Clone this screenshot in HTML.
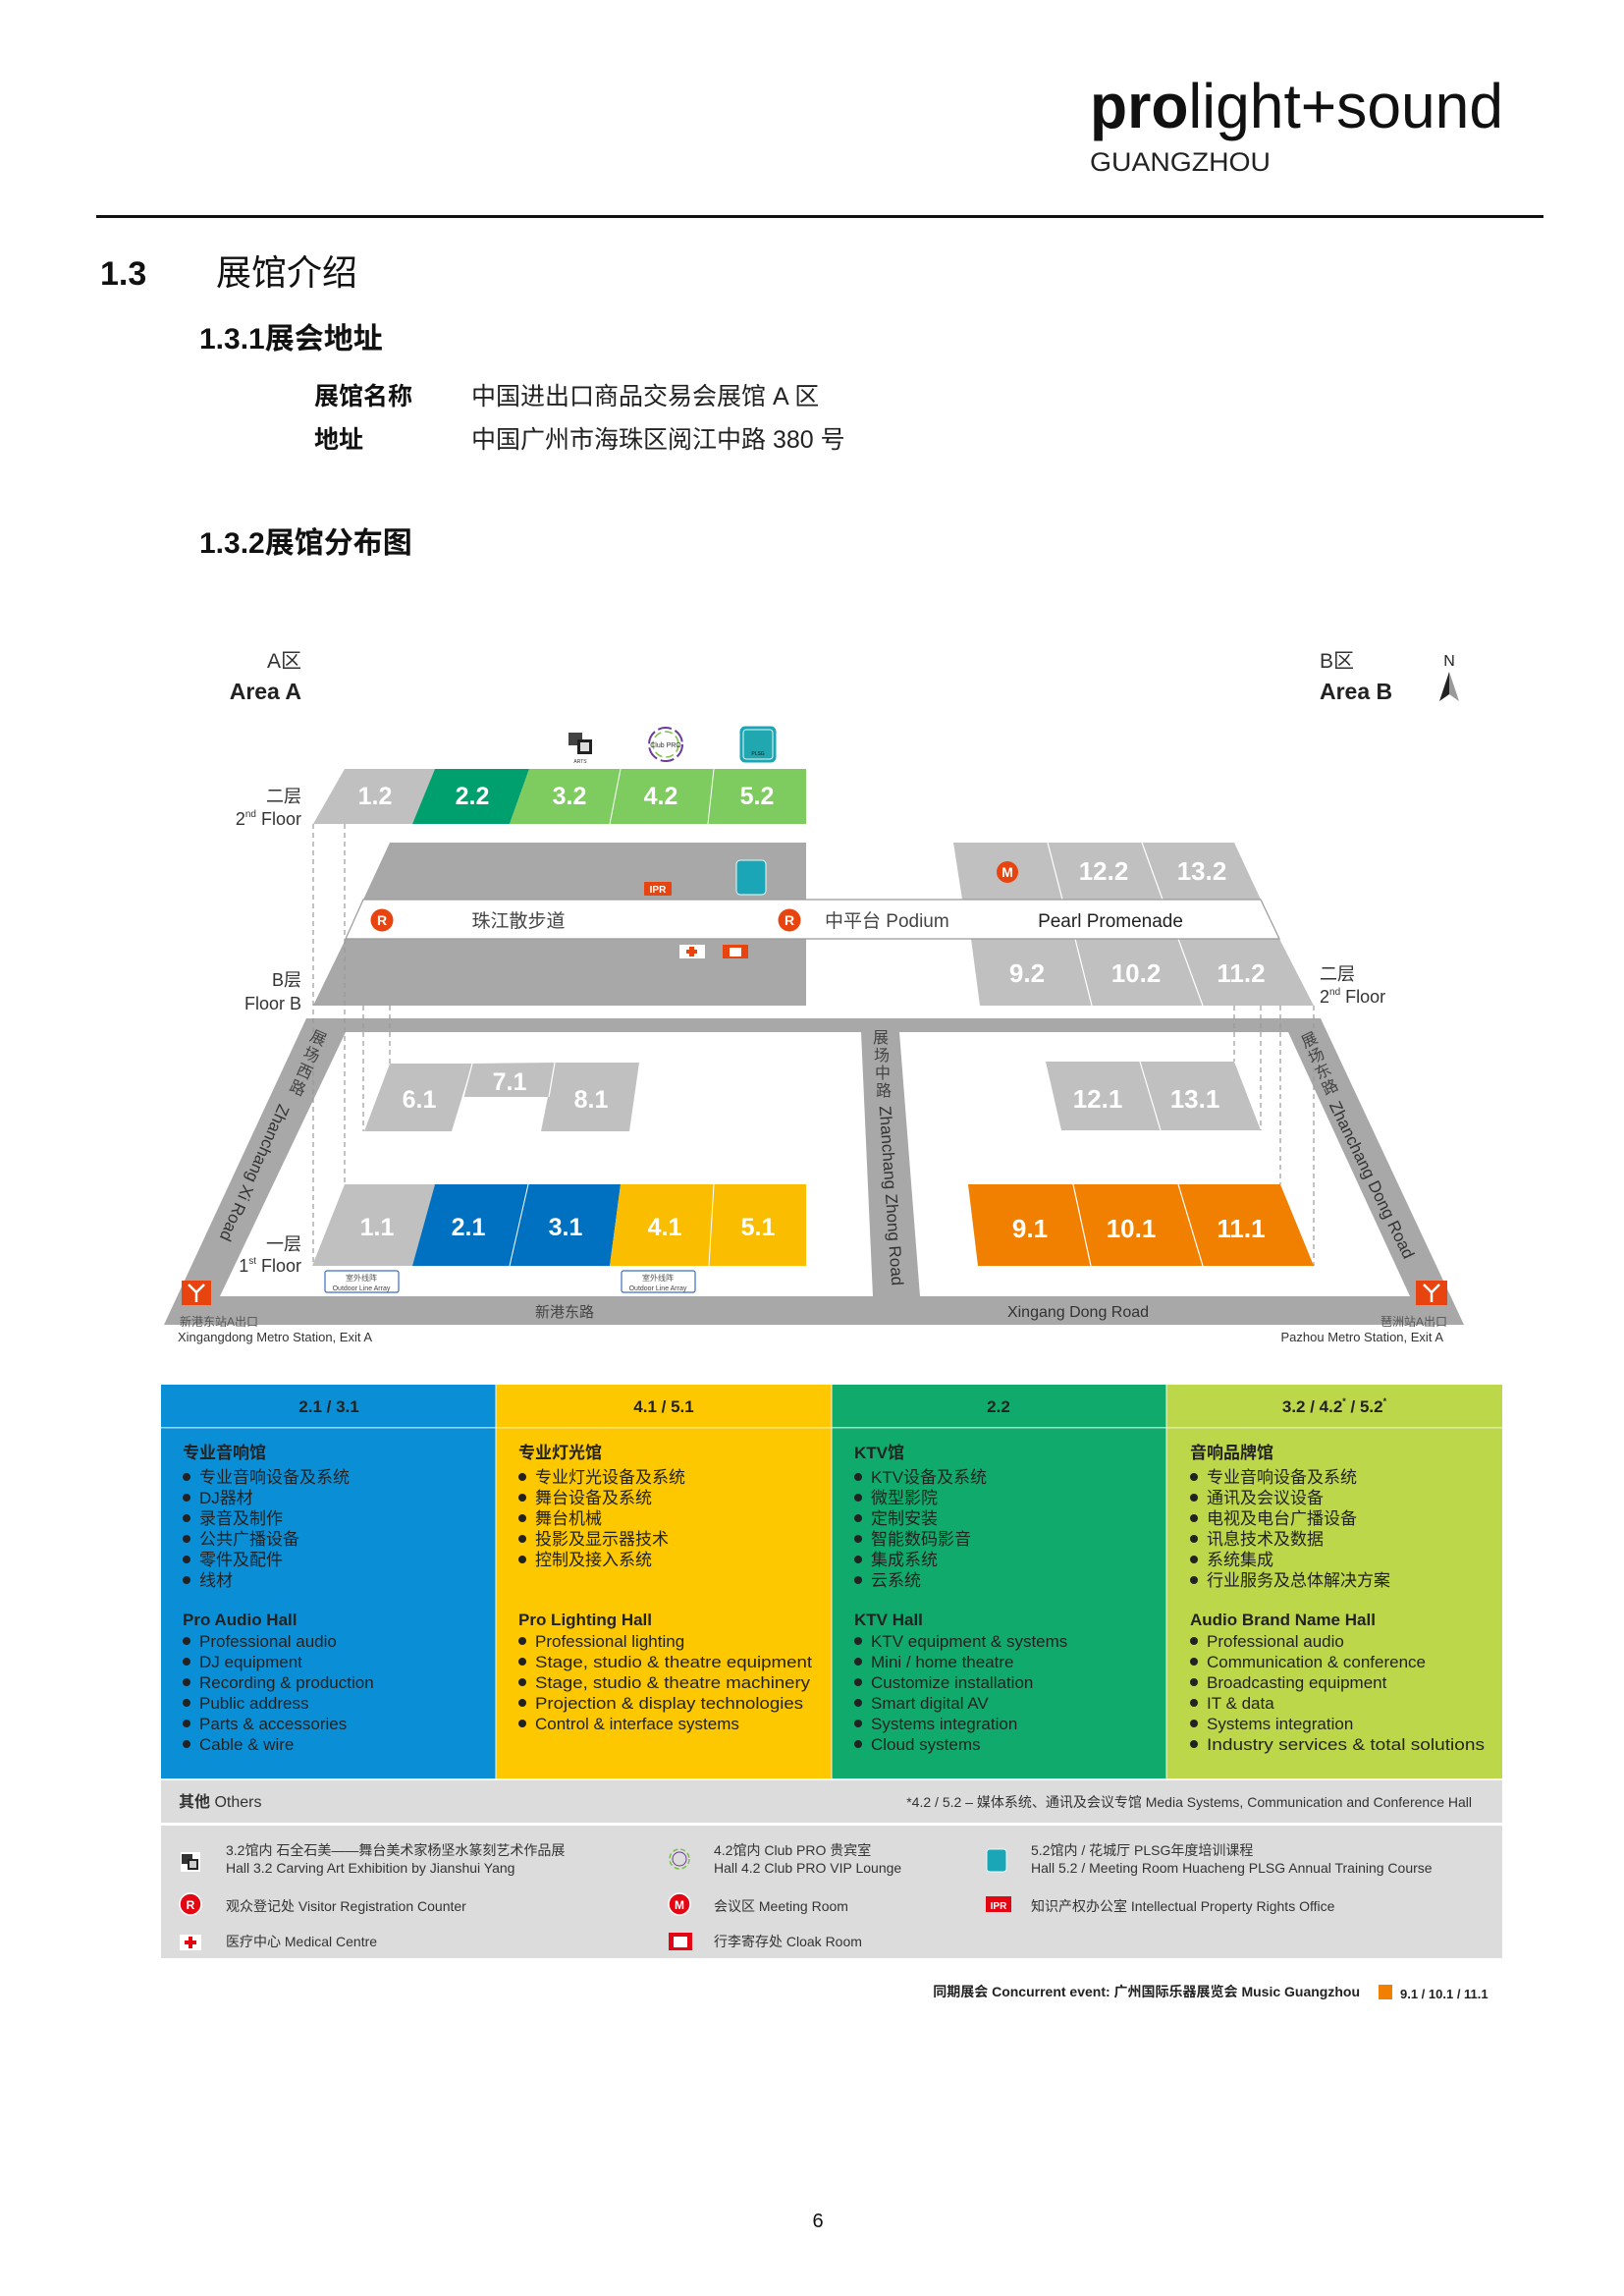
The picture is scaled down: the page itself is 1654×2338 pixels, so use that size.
<!DOCTYPE html>
<html><head><meta charset="utf-8"><style>
html,body{margin:0;padding:0;background:#fff}
svg{display:block}
text{font-family:"Liberation Sans","Noto Sans CJK SC",sans-serif}
</style></head><body>
<svg width="1654" height="2338" viewBox="0 0 1654 2338" xmlns="http://www.w3.org/2000/svg">
<!-- Header -->
<text x="1110" y="130" font-size="64" textLength="421" lengthAdjust="spacingAndGlyphs" fill="#111"><tspan font-weight="bold">pro</tspan>light+sound</text>
<text x="1110" y="174" font-size="27" textLength="184" lengthAdjust="spacingAndGlyphs" fill="#222">GUANGZHOU</text>
<rect x="98" y="219" width="1474" height="3" fill="#111"/>
<text x="102" y="290" font-size="34" font-weight="bold" fill="#111">1.3</text>
<text x="220" y="290" font-size="36" fill="#111">展馆介绍</text>
<text x="203" y="355" font-size="30" font-weight="bold" fill="#111">1.3.1展会地址</text>
<text x="320" y="412" font-size="25" font-weight="bold" fill="#111">展馆名称</text>
<text x="480" y="412" font-size="25" fill="#222">中国进出口商品交易会展馆 A 区</text>
<text x="320" y="456" font-size="25" font-weight="bold" fill="#111">地址</text>
<text x="480" y="456" font-size="25" fill="#222">中国广州市海珠区阅江中路 380 号</text>
<text x="203" y="563" font-size="30" font-weight="bold" fill="#111">1.3.2展馆分布图</text>

<!-- Area labels -->
<text x="307" y="680" font-size="21" text-anchor="end" fill="#333">A区</text>
<text x="307" y="712" font-size="23" font-weight="bold" text-anchor="end" fill="#222">Area A</text>
<text x="1344" y="680" font-size="21" fill="#333">B区</text>
<text x="1344" y="712" font-size="23" font-weight="bold" fill="#222">Area B</text>
<text x="1476" y="678" font-size="16" text-anchor="middle" fill="#222">N</text>
<polygon points="1476,684 1466,714 1476,707" fill="#222"/>
<polygon points="1476,684 1486,714 1476,707" fill="#999"/>

<!-- top icons -->
<g transform="translate(579,746)"><rect width="24" height="22" fill="#fff"/><rect x="0" y="0" width="14" height="13" fill="#444"/><rect x="9" y="7" width="15" height="15" fill="#222"/><rect x="12" y="10" width="9" height="9" fill="#ddd"/><text x="12" y="31" font-size="5" text-anchor="middle" fill="#333">ARTS</text></g>
<circle cx="678" cy="758" r="17" fill="none" stroke="#6a3c9a" stroke-width="2" stroke-dasharray="14,4"/>
<circle cx="678" cy="758" r="13" fill="none" stroke="#7ac143" stroke-width="1.5" stroke-dasharray="8,4"/>
<text x="678" y="761" font-size="7" text-anchor="middle" fill="#333">Club PRO</text>
<rect x="754" y="740" width="36" height="36" rx="5" fill="#1ba6b8" stroke="#1ba6b8"/><rect x="757" y="743" width="30" height="30" rx="3" fill="#21a7b0" stroke="#e8f7f8" stroke-width="1"/>
<text x="772" y="769" font-size="5" text-anchor="middle" fill="#111">PLSG</text>

<!-- 2nd floor row A -->
<polygon points="351,783 443,783 420,839 319,839" fill="#c0c0c0"/>
<polygon points="443,783 539,783 519,839 420,839" fill="#00a06e"/>
<polygon points="539,783 632,783 621,839 519,839" fill="#7ecb5f"/>
<polygon points="632,783 727,783 721,839 621,839" fill="#7ecb5f"/>
<polygon points="727,783 821,783 821,839 721,839" fill="#7ecb5f"/>
<g stroke="#fff" stroke-width="1"><line x1="632" y1="783" x2="621" y2="839"/><line x1="727" y1="783" x2="721" y2="839"/></g>
<g font-size="25" font-weight="bold" fill="#fff" text-anchor="middle">
<text x="382" y="819">1.2</text><text x="481" y="819">2.2</text><text x="580" y="819">3.2</text><text x="673" y="819">4.2</text><text x="771" y="819">5.2</text></g>
<text x="307" y="817" font-size="18" text-anchor="end" fill="#333">二层</text>
<text x="307" y="840" font-size="18" text-anchor="end" fill="#333">2<tspan font-size="10" dy="-8">nd</tspan><tspan dy="8"> Floor</tspan></text>

<!-- Floor B block A -->
<polygon points="397,858 821,858 821,916 370,916" fill="#a8a8a8"/>
<polygon points="352,956 821,956 821,1024 319,1024" fill="#a8a8a8"/>
<!-- B side 2nd-floor rows -->
<polygon points="971,858 1067,858 1082,916 980,916" fill="#c0c0c0"/>
<polygon points="1067,858 1163,858 1184,916 1082,916" fill="#c0c0c0"/>
<polygon points="1163,858 1257,858 1284,916 1184,916" fill="#c0c0c0"/>
<g stroke="#fff" stroke-width="1.2"><line x1="1067" y1="858" x2="1082" y2="916"/><line x1="1163" y1="858" x2="1184" y2="916"/></g>
<polygon points="989,956 1303,956 1338,1024 998,1024" fill="#c0c0c0"/>
<g stroke="#fff" stroke-width="1.2"><line x1="1095" y1="956" x2="1112" y2="1024"/><line x1="1200" y1="956" x2="1225" y2="1024"/></g>
<!-- promenade -->
<polygon points="370,916 1284,916 1303,956 352,956" fill="#fff" stroke="#999" stroke-width="1.2"/>
<g font-size="26" font-weight="bold" fill="#fff" text-anchor="middle">
<text x="1124" y="896">12.2</text><text x="1224" y="896">13.2</text>
<text x="1046" y="1000">9.2</text><text x="1157" y="1000">10.2</text><text x="1264" y="1000">11.2</text></g>
<text x="528" y="944" font-size="19" text-anchor="middle" fill="#444">珠江散步道</text>
<text x="840" y="944" font-size="19" fill="#444">中平台 Podium</text>
<text x="1131" y="944" font-size="19" text-anchor="middle" fill="#222">Pearl Promenade</text>
<text x="1344" y="998" font-size="18" fill="#333">二层</text>
<text x="1344" y="1021" font-size="18" fill="#333">2<tspan font-size="10" dy="-8">nd</tspan><tspan dy="8"> Floor</tspan></text>
<text x="307" y="1004" font-size="18" text-anchor="end" fill="#333">B层</text>
<text x="307" y="1028" font-size="18" text-anchor="end" fill="#333">Floor B</text>

<!-- icons on B floor -->
<rect x="656" y="898" width="28" height="14" rx="1" fill="#e8440f"/><text x="670" y="909" font-size="10" font-weight="bold" text-anchor="middle" fill="#fff">IPR</text>
<rect x="750" y="876" width="30" height="35" rx="4" fill="#1ba6b8" stroke="#eaf8f8" stroke-width="1"/>
<rect x="692" y="962" width="26" height="14" fill="#fff"/><rect x="702" y="964" width="5" height="10" fill="#e8440f"/><rect x="699" y="967" width="11" height="4" fill="#e8440f"/>
<rect x="736" y="962" width="26" height="14" fill="#e8440f"/><rect x="743" y="965" width="12" height="9" fill="#fff"/>
<g font-size="14" font-weight="bold" fill="#fff" text-anchor="middle">
<circle cx="389" cy="937" r="11.5" fill="#e8440f"/><text x="389" y="942">R</text>
<circle cx="804" cy="937" r="11.5" fill="#e8440f"/><text x="804" y="942">R</text>
<circle cx="1026" cy="888" r="11" fill="#e8440f"/><text x="1026" y="893">M</text>
<circle cx="363" cy="1180" r="11" fill="#e8440f"/><text x="363" y="1185">R</text>
<circle cx="808" cy="1180" r="11" fill="#e8440f"/><text x="808" y="1185">R</text>
</g>

<!-- Roads -->
<polygon points="312,1037 1345,1037 1491,1349 167,1349" fill="#a8a8a8"/>
<polygon points="352,1051 1312,1051 1436,1320 224,1320" fill="#fff"/>
<polygon points="877,1051 916,1051 937,1320 889,1320" fill="#a8a8a8"/>

<!-- dashed lines -->
<g stroke="#999" stroke-width="1.2" stroke-dasharray="5,4" fill="none">
<line x1="319" y1="839" x2="319" y2="1289"/>
<line x1="351" y1="839" x2="351" y2="1206"/>
<line x1="370" y1="1024" x2="370" y2="1152"/>
<line x1="397" y1="1024" x2="397" y2="1083"/>
<line x1="1257" y1="1024" x2="1257" y2="1081"/>
<line x1="1284" y1="1024" x2="1284" y2="1151"/>
<line x1="1304" y1="1024" x2="1304" y2="1206"/>
<line x1="1338" y1="1024" x2="1338" y2="1289"/>
</g>

<!-- 1st floor A -->
<polygon points="397,1083 481,1083 460,1152 371,1152" fill="#c0c0c0"/>
<polygon points="481,1083 565,1082 559,1117 472,1117" fill="#c0c0c0"/>
<polygon points="565,1082 651,1082 641,1152 551,1152" fill="#c0c0c0"/>
<line x1="481" y1="1083" x2="472" y2="1117" stroke="#fff" stroke-width="1.2"/>
<line x1="565" y1="1082" x2="559" y2="1117" stroke="#fff" stroke-width="1.2"/>
<polygon points="351,1206 443,1206 420,1289 318,1289" fill="#c0c0c0"/>
<polygon points="443,1206 538,1206 519,1289 420,1289" fill="#0070c0"/>
<polygon points="538,1206 632,1206 621,1289 519,1289" fill="#0070c0"/>
<polygon points="632,1206 727,1206 722,1289 621,1289" fill="#fbbd00"/>
<polygon points="727,1206 821,1206 821,1289 722,1289" fill="#fbbd00"/>
<g stroke="#fff" stroke-width="1"><line x1="538" y1="1206" x2="519" y2="1289"/><line x1="727" y1="1206" x2="722" y2="1289"/></g>
<g font-size="25" font-weight="bold" fill="#fff" text-anchor="middle">
<text x="427" y="1128">6.1</text><text x="519" y="1110">7.1</text><text x="602" y="1128">8.1</text>
<text x="384" y="1258">1.1</text><text x="477" y="1258">2.1</text><text x="576" y="1258">3.1</text><text x="677" y="1258">4.1</text><text x="772" y="1258">5.1</text></g>
<text x="307" y="1273" font-size="18" text-anchor="end" fill="#333">一层</text>
<text x="307" y="1295" font-size="18" text-anchor="end" fill="#333">1<tspan font-size="10" dy="-8">st</tspan><tspan dy="8"> Floor</tspan></text>

<!-- 1st floor B -->
<polygon points="1065,1081 1161,1081 1182,1151 1081,1151" fill="#c0c0c0"/>
<polygon points="1161,1081 1257,1081 1284,1151 1182,1151" fill="#c0c0c0"/>
<line x1="1161" y1="1081" x2="1182" y2="1151" stroke="#fff" stroke-width="1.2"/>
<polygon points="986,1206 1304,1206 1338,1289 996,1289" fill="#f28000"/>
<g stroke="#fff" stroke-width="1.2"><line x1="1093" y1="1206" x2="1111" y2="1289"/><line x1="1200" y1="1206" x2="1225" y2="1289"/></g>
<g font-size="26" font-weight="bold" fill="#fff" text-anchor="middle">
<text x="1118" y="1128">12.1</text><text x="1217" y="1128">13.1</text>
<text x="1049" y="1260">9.1</text><text x="1152" y="1260">10.1</text><text x="1264" y="1260">11.1</text></g>

<!-- outdoor boxes -->
<g><rect x="331" y="1294" width="75" height="22" rx="2" fill="#fff" stroke="#3a6fc0" stroke-width="1.2"/>
<text x="368" y="1304" font-size="8" text-anchor="middle" fill="#555">室外线阵</text><text x="368" y="1314" font-size="7" text-anchor="middle" fill="#444">Outdoor Line Array</text>
<rect x="633" y="1294" width="75" height="22" rx="2" fill="#fff" stroke="#3a6fc0" stroke-width="1.2"/>
<text x="670" y="1304" font-size="8" text-anchor="middle" fill="#555">室外线阵</text><text x="670" y="1314" font-size="7" text-anchor="middle" fill="#444">Outdoor Line Array</text></g>

<!-- road labels -->
<g font-size="16" fill="#444">
<text transform="translate(322,1062) rotate(24)" text-anchor="middle">展</text>
<text transform="translate(315,1079) rotate(24)" text-anchor="middle">场</text>
<text transform="translate(308,1096) rotate(24)" text-anchor="middle">西</text>
<text transform="translate(301,1113) rotate(24)" text-anchor="middle">路</text>
<text transform="translate(897,1062)" text-anchor="middle">展</text>
<text transform="translate(898,1080)" text-anchor="middle">场</text>
<text transform="translate(899,1098)" text-anchor="middle">中</text>
<text transform="translate(900,1116)" text-anchor="middle">路</text>
<text transform="translate(1336,1064) rotate(-26)" text-anchor="middle">展</text>
<text transform="translate(1343,1080) rotate(-26)" text-anchor="middle">场</text>
<text transform="translate(1350,1096) rotate(-26)" text-anchor="middle">东</text>
<text transform="translate(1357,1112) rotate(-26)" text-anchor="middle">路</text>
</g>
<g font-size="17" fill="#333" text-anchor="middle">
<text transform="translate(254,1192) rotate(114)">Zhanchang Xi Road</text>
<text transform="translate(902,1218) rotate(86)">Zhanchang Zhong Road</text>
<text transform="translate(1392,1204) rotate(64)">Zhanchang Dong Road</text>
</g>
<text x="575" y="1341" font-size="15" text-anchor="middle" fill="#444">新港东路</text>
<text x="1098" y="1341" font-size="16" text-anchor="middle" fill="#333">Xingang Dong Road</text>

<!-- metro icons -->
<g><rect x="185" y="1304" width="30" height="25" fill="#e8440f"/>
<path d="M192,1308 L200,1316 L200,1326 M208,1308 L200,1316" stroke="#fff" stroke-width="2.5" fill="none"/>
<rect x="1442" y="1304" width="32" height="25" fill="#e8440f"/>
<path d="M1450,1308 L1458,1316 L1458,1326 M1466,1308 L1458,1316" stroke="#fff" stroke-width="2.5" fill="none"/></g>
<text x="183" y="1350" font-size="12" fill="#555">新港东站A出口</text>
<text x="181" y="1366" font-size="13" fill="#333">Xingangdong Metro Station, Exit A</text>
<text x="1474" y="1350" font-size="12" text-anchor="end" fill="#555">琶洲站A出口</text>
<text x="1470" y="1366" font-size="13" text-anchor="end" fill="#333">Pazhou Metro Station, Exit A</text>

<!-- Table -->
<rect x="164" y="1410" width="341" height="401" fill="#0a8fd6"/>
<rect x="505" y="1410" width="342" height="401" fill="#fdc800"/>
<rect x="847" y="1410" width="341" height="401" fill="#10ab6c"/>
<rect x="1188" y="1410" width="342" height="401" fill="#bdd74b"/>
<rect x="164" y="1453" width="1366" height="1.5" fill="#e8f0f0" opacity="0.7"/>
<g stroke="#f5f5f5" stroke-width="1"><line x1="505" y1="1410" x2="505" y2="1811"/><line x1="847" y1="1410" x2="847" y2="1811"/><line x1="1188" y1="1410" x2="1188" y2="1811"/></g>
<g font-size="17" font-weight="bold" fill="#222" text-anchor="middle">
<text x="335" y="1438">2.1 / 3.1</text><text x="676" y="1438">4.1 / 5.1</text><text x="1017" y="1438">2.2</text>
<text x="1359" y="1438">3.2 / 4.2<tspan font-size="9" dy="-8">*</tspan><tspan dy="8"> / 5.2</tspan><tspan font-size="9" dy="-8">*</tspan></text></g>

<g fill="#222" font-size="17">
<text x="186" y="1485" font-weight="bold">专业音响馆</text>
<g transform="translate(186,0)">
<circle cx="4" cy="1504" r="4"/><circle cx="4" cy="1525" r="4"/><circle cx="4" cy="1546" r="4"/><circle cx="4" cy="1567" r="4"/><circle cx="4" cy="1588" r="4"/><circle cx="4" cy="1609" r="4"/>
<circle cx="4" cy="1671" r="4"/><circle cx="4" cy="1692" r="4"/><circle cx="4" cy="1713" r="4"/><circle cx="4" cy="1734" r="4"/><circle cx="4" cy="1755" r="4"/><circle cx="4" cy="1776" r="4"/></g>
<text x="203" y="1510">专业音响设备及系统</text><text x="203" y="1531">DJ器材</text><text x="203" y="1552">录音及制作</text><text x="203" y="1573">公共广播设备</text><text x="203" y="1594">零件及配件</text><text x="203" y="1615">线材</text>
<text x="186" y="1655" font-weight="bold">Pro Audio Hall</text>
<text x="203" y="1677">Professional audio</text><text x="203" y="1698">DJ equipment</text><text x="203" y="1719">Recording &amp; production</text><text x="203" y="1740">Public address</text><text x="203" y="1761">Parts &amp; accessories</text><text x="203" y="1782">Cable &amp; wire</text>
<text x="528" y="1485" font-weight="bold">专业灯光馆</text>
<g transform="translate(528,0)">
<circle cx="4" cy="1504" r="4"/><circle cx="4" cy="1525" r="4"/><circle cx="4" cy="1546" r="4"/><circle cx="4" cy="1567" r="4"/><circle cx="4" cy="1588" r="4"/>
<circle cx="4" cy="1671" r="4"/><circle cx="4" cy="1692" r="4"/><circle cx="4" cy="1713" r="4"/><circle cx="4" cy="1734" r="4"/><circle cx="4" cy="1755" r="4"/></g>
<text x="545" y="1510">专业灯光设备及系统</text><text x="545" y="1531">舞台设备及系统</text><text x="545" y="1552">舞台机械</text><text x="545" y="1573">投影及显示器技术</text><text x="545" y="1594">控制及接入系统</text>
<text x="528" y="1655" font-weight="bold">Pro Lighting Hall</text>
<text x="545" y="1677">Professional lighting</text><text x="545" y="1698" textLength="282" lengthAdjust="spacingAndGlyphs">Stage, studio &amp; theatre equipment</text><text x="545" y="1719" textLength="280" lengthAdjust="spacingAndGlyphs">Stage, studio &amp; theatre machinery</text><text x="545" y="1740" textLength="273" lengthAdjust="spacingAndGlyphs">Projection &amp; display technologies</text><text x="545" y="1761">Control &amp; interface systems</text>
<text x="870" y="1485" font-weight="bold">KTV馆</text>
<g transform="translate(870,0)">
<circle cx="4" cy="1504" r="4"/><circle cx="4" cy="1525" r="4"/><circle cx="4" cy="1546" r="4"/><circle cx="4" cy="1567" r="4"/><circle cx="4" cy="1588" r="4"/><circle cx="4" cy="1609" r="4"/>
<circle cx="4" cy="1671" r="4"/><circle cx="4" cy="1692" r="4"/><circle cx="4" cy="1713" r="4"/><circle cx="4" cy="1734" r="4"/><circle cx="4" cy="1755" r="4"/><circle cx="4" cy="1776" r="4"/></g>
<text x="887" y="1510">KTV设备及系统</text><text x="887" y="1531">微型影院</text><text x="887" y="1552">定制安装</text><text x="887" y="1573">智能数码影音</text><text x="887" y="1594">集成系统</text><text x="887" y="1615">云系统</text>
<text x="870" y="1655" font-weight="bold">KTV Hall</text>
<text x="887" y="1677">KTV equipment &amp; systems</text><text x="887" y="1698">Mini / home theatre</text><text x="887" y="1719">Customize installation</text><text x="887" y="1740">Smart digital AV</text><text x="887" y="1761">Systems integration</text><text x="887" y="1782">Cloud systems</text>
<text x="1212" y="1485" font-weight="bold">音响品牌馆</text>
<g transform="translate(1212,0)">
<circle cx="4" cy="1504" r="4"/><circle cx="4" cy="1525" r="4"/><circle cx="4" cy="1546" r="4"/><circle cx="4" cy="1567" r="4"/><circle cx="4" cy="1588" r="4"/><circle cx="4" cy="1609" r="4"/>
<circle cx="4" cy="1671" r="4"/><circle cx="4" cy="1692" r="4"/><circle cx="4" cy="1713" r="4"/><circle cx="4" cy="1734" r="4"/><circle cx="4" cy="1755" r="4"/><circle cx="4" cy="1776" r="4"/></g>
<text x="1229" y="1510">专业音响设备及系统</text><text x="1229" y="1531">通讯及会议设备</text><text x="1229" y="1552">电视及电台广播设备</text><text x="1229" y="1573">讯息技术及数据</text><text x="1229" y="1594">系统集成</text><text x="1229" y="1615">行业服务及总体解决方案</text>
<text x="1212" y="1655" font-weight="bold">Audio Brand Name Hall</text>
<text x="1229" y="1677">Professional audio</text><text x="1229" y="1698">Communication &amp; conference</text><text x="1229" y="1719">Broadcasting equipment</text><text x="1229" y="1740">IT &amp; data</text><text x="1229" y="1761">Systems integration</text><text x="1229" y="1782" textLength="283" lengthAdjust="spacingAndGlyphs">Industry services &amp; total solutions</text>
</g>

<!-- Others -->
<rect x="164" y="1813" width="1366" height="43" fill="#dcdcdc"/>
<rect x="164" y="1859" width="1366" height="135" fill="#dcdcdc"/>
<text x="182" y="1840" font-size="16" fill="#333"><tspan font-weight="bold">其他</tspan> Others</text>
<text x="1499" y="1840" font-size="14" text-anchor="end" fill="#333">*4.2 / 5.2 – 媒体系统、通讯及会议专馆 Media Systems, Communication and Conference Hall</text>
<g font-size="14" fill="#333">
<text x="230" y="1889">3.2馆内  石全石美——舞台美术家杨坚水篆刻艺术作品展</text>
<text x="230" y="1907">Hall 3.2  Carving Art Exhibition by Jianshui Yang</text>
<text x="727" y="1889">4.2馆内  Club PRO 贵宾室</text>
<text x="727" y="1907">Hall 4.2  Club PRO VIP Lounge</text>
<text x="1050" y="1889">5.2馆内 / 花城厅  PLSG年度培训课程</text>
<text x="1050" y="1907">Hall 5.2 / Meeting Room Huacheng PLSG Annual Training Course</text>
<text x="230" y="1946">观众登记处  Visitor Registration Counter</text>
<text x="727" y="1946">会议区  Meeting Room</text>
<text x="1050" y="1946">知识产权办公室  Intellectual Property Rights Office</text>
<text x="230" y="1982">医疗中心  Medical Centre</text>
<text x="727" y="1982">行李寄存处  Cloak Room</text>
</g>
<rect x="184" y="1886" width="20" height="20" fill="#fff"/><rect x="185" y="1888" width="11" height="10" fill="#333"/><rect x="191" y="1893" width="11" height="11" fill="#222"/><rect x="193" y="1895" width="7" height="7" fill="#ccc"/>
<circle cx="692" cy="1893" r="10" fill="none" stroke="#7ac143" stroke-width="1.5" stroke-dasharray="5,3"/><circle cx="692" cy="1893" r="7" fill="none" stroke="#6a3c9a" stroke-width="1"/>
<rect x="1005" y="1883" width="20" height="23" rx="3" fill="#1ba6b8" stroke="#e9f7f7"/>
<g font-size="12" font-weight="bold" fill="#fff" text-anchor="middle">
<circle cx="194" cy="1939" r="11" fill="#e30613" stroke="#fff" stroke-width="1.5"/><text x="194" y="1944">R</text>
<circle cx="692" cy="1939" r="11" fill="#e30613" stroke="#fff" stroke-width="1.5"/><text x="692" y="1944">M</text>
<rect x="1004" y="1931" width="26" height="16" fill="#e30613"/><text x="1017" y="1944" font-size="10">IPR</text>
</g>
<rect x="183" y="1970" width="22" height="16" fill="#fff"/><rect x="192" y="1972" width="4" height="12" fill="#e30613"/><rect x="188" y="1976" width="12" height="4" fill="#e30613"/>
<rect x="681" y="1968" width="24" height="18" fill="#e30613"/><rect x="686" y="1972" width="14" height="11" fill="#fff"/>

<text x="1385" y="2033" font-size="14" font-weight="bold" text-anchor="end" fill="#222">同期展会 Concurrent event: 广州国际乐器展览会 Music Guangzhou</text>
<rect x="1404" y="2021" width="14" height="15" fill="#f28000"/>
<text x="1426" y="2035" font-size="13" font-weight="bold" fill="#222">9.1 / 10.1 / 11.1</text>
<text x="833" y="2268" font-size="20" text-anchor="middle" fill="#111">6</text>
</svg>
</body></html>
